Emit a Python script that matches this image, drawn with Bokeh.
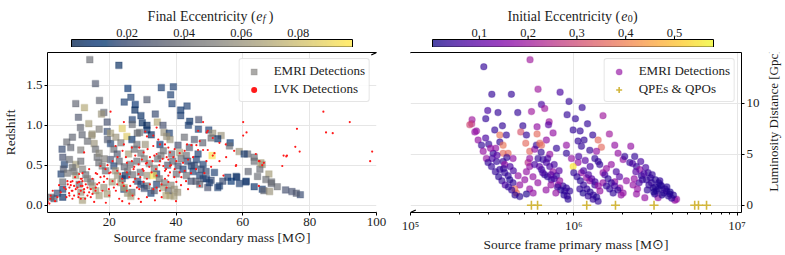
import math
import numpy as np
from bokeh.plotting import figure
from bokeh.models import (Range1d, LinearColorMapper, FixedTicker, PrintfTickFormatter,
                          CustomJSTickFormatter, Legend, LegendItem, Arrow,
                          LinearAxis, LogAxis, ColumnDataSource)
from bokeh.core.properties import value
from bokeh.palettes import Cividis256, Plasma256
from bokeh.layouts import column, row
from bokeh.embed import file_html
from bokeh.resources import INLINE

# ---------------- data: left panel, EMRI detections (secondary mass, redshift, final ecc.)
emri_m2 = [14.2, 22.9, 15.9, 25.6, 35.6, 38.4, 26.5, 31.3, 24.5, 27.8,
           27.7, 17.1, 10.0, 12.6, 18.4, 17.7, 29.5, 33.8, 10.8, 13.9,
           19.4, 26.9, 29.9, 31.3, 34.4, 36.1, 23.9, 11.4, 19.4, 14.9,
           20.4, 26.9, 28.4, 31.3, 32.6, 36.4, 11.9, 39.2, 38.8, 41.4,
           43.3, 41.4, 44.1, 43.7, 46.8, 46.7, 49.8, 51.0, 53.5, 52.5,
           56.2, 56.0, 58.9, 61.4, 63.4, 65.8, 67.8, 65.1, 61.6, 64.4,
           66.9, 70.3, 68.5, 72.8, 74.7, 77.2, 76.0, 63.4, 65.8, 61.0,
           58.0, 55.5, 53.0, 50.5, 48.1, 38.0, 38.2, 38.7, 40.6, 41.1,
           43.1, 46.6, 50.5, 60.4, 63.4, 65.4, 68.6, 60.9, 66.3, 68.0,
           58.2, 52.5, 49.5, 47.1, 38.2, 39.4, 42.1, 45.1, 47.1, 49.1,
           51.5, 50.0, 43.1, 40.1, 40.6, 44.6, 48.1, 46.1, 50.8, 14.8,
           25.3, 29.1, 15.5, 7.3, 15.9, 11.5, 20.4, 21.4, 22.4, 26.8,
           28.3, 30.8, 25.8, 35.2, 36.2, 37.2, 10.0, 6.1, 6.6, 8.1,
           11.5, 12.0, 16.4, 16.9, 17.9, 18.9, 20.4, 21.4, 21.9, 20.9,
           23.9, 24.8, 26.3, 28.3, 29.3, 31.3, 34.2, 31.3, 34.2, 36.2,
           37.7, 33.2, 5.6, 6.1, 6.1, 6.1, 2.6, 10.0, 11.0, 11.5,
           12.0, 14.5, 18.4, 19.4, 24.4, 26.8, 5.9, 6.3, 9.0, 9.5,
           13.0, 13.5, 15.0, 16.0, 17.0, 17.0, 18.5, 22.5, 23.5, 24.5,
           25.5, 26.5, 27.5, 29.5, 30.5, 32.0, 33.5, 35.0, 36.5, 38.5,
           39.5, 40.5, 37.0, 28.5, 29.5, 30.5, 32.5, 33.5, 35.5, 34.5,
           37.5, 39.0, 41.5, 43.5, 45.5, 47.5, 49.0, 44.5, 46.0, 54.0,
           56.5, 59.0, 23.0, 24.5, 25.5, 27.0, 19.5, 22.0, 23.5, 17.0,
           13.5, 9.0, 8.5, 3.5, 4.5, 7.5, 45.5, 48.0, 42.5, 44.0]
emri_z = [1.82, 1.75, 1.52, 1.46, 1.47, 1.38, 1.35, 1.32, 1.29, 1.26,
          1.19, 1.31, 1.27, 1.22, 1.16, 1.14, 1.12, 1.14, 1.10, 1.02,
          1.04, 1.07, 1.03, 1.00, 1.04, 1.00, 0.96, 0.97, 0.92, 0.89,
          0.90, 1.01, 0.90, 0.94, 0.88, 0.91, 0.88, 1.48, 1.27, 1.19,
          1.24, 1.12, 1.05, 1.00, 1.07, 0.95, 0.94, 0.90, 0.87, 0.83,
          0.78, 0.74, 0.67, 0.64, 0.60, 0.51, 0.39, 0.45, 0.42, 0.36,
          0.32, 0.23, 0.27, 0.19, 0.17, 0.13, 0.15, 0.23, 0.20, 0.30,
          0.36, 0.35, 0.24, 0.31, 0.33, 0.90, 0.82, 0.64, 0.75, 0.66,
          0.62, 0.64, 0.84, 0.64, 0.55, 0.53, 0.29, 0.29, 0.18, 0.17,
          0.35, 0.22, 0.22, 0.26, 0.12, 0.11, 0.45, 0.42, 0.37, 0.33,
          0.41, 0.28, 0.37, 0.39, 0.49, 0.49, 0.51, 0.57, 0.62, 0.87,
          0.86, 0.91, 0.77, 0.79, 0.70, 0.69, 0.77, 0.70, 0.64, 0.82,
          0.76, 0.76, 0.64, 0.76, 0.68, 0.86, 0.51, 0.60, 0.51, 0.57,
          0.55, 0.45, 0.60, 0.53, 0.49, 0.43, 0.57, 0.49, 0.43, 0.29,
          0.33, 0.37, 0.51, 0.55, 0.41, 0.37, 0.39, 0.24, 0.26, 0.22,
          0.18, 0.37, 0.39, 0.29, 0.20, 0.10, 0.10, 0.37, 0.26, 0.16,
          0.06, 0.29, 0.22, 0.14, 0.20, 0.16, 0.70, 0.45, 0.47, 0.42,
          0.38, 0.33, 0.24, 0.18, 0.12, 0.65, 0.58, 0.37, 0.28, 0.22,
          0.15, 0.11, 0.70, 0.65, 0.58, 0.52, 0.46, 0.33, 0.28, 0.25,
          0.20, 0.16, 0.12, 0.30, 0.26, 0.21, 0.15, 0.18, 0.62, 0.58,
          0.50, 0.55, 0.58, 0.55, 0.50, 0.45, 0.42, 0.30, 0.30, 0.30,
          0.30, 0.27, 0.55, 0.48, 0.42, 0.38, 0.82, 0.85, 0.78, 0.95,
          0.80, 0.85, 0.72, 0.08, 0.15, 0.40, 0.82, 0.78, 0.85, 0.72]
emri_ef = [.040, .004, .030, .008, .015, .015, .015, .030, .015, .008,
           .004, .035, .035, .070, .035, .060, .005, .020, .030, .065,
           .025, .015, .004, .003, .070, .025, .085, .035, .020, .060,
           .065, .040, .040, .005, .004, .060, .035, .015, .015, .006,
           .015, .015, .005, .015, .025, .015, .015, .060, .060, .005,
           .010, .040, .060, .035, .040, .060, .065, .040, .035, .040,
           .040, .040, .035, .025, .025, .020, .030, .006, .015, .015,
           .015, .015, .015, .020, .020, .015, .060, .040, .025, .065,
           .040, .015, .040, .015, .040, .065, .040, .015, .035, .060,
           .015, .015, .025, .035, .065, .065, .015, .015, .015, .015,
           .015, .015, .040, .040, .025, .015, .015, .015, .095, .060,
           .085, .040, .060, .040, .040, .050, .015, .040, .030, .006,
           .040, .060, .065, .008, .040, .060, .065, .025, .015, .040,
           .040, .050, .040, .040, .050, .040, .025, .015, .060, .065,
           .015, .006, .040, .040, .040, .060, .015, .040, .015, .065,
           .040, .095, .015, .040, .015, .005, .040, .065, .040, .060,
           .065, .040, .060, .065, .015, .040, .020, .030, .040, .045,
           .040, .050, .060, .065, .065, .055, .050, .060, .065, .070,
           .060, .065, .040, .045, .050, .050, .050, .045, .050, .055,
           .060, .060, .070, .020, .015, .020, .015, .030, .045, .040,
           .030, .035, .040, .020, .020, .020, .020, .025, .030, .020,
           .010, .015, .035, .035, .040, .040, .030, .060, .050, .050,
           .040, .035, .035, .030, .020, .045, .030, .035, .040, .030]

# ---------------- data: left panel, LVK detections (secondary mass, redshift)
lvk_m2 = [3.1, 2.4, 2.1, 7.6, 8.1, 8.5, 9.0, 9.5, 10.5, 11.0,
          11.5, 12.0, 12.5, 8.1, 9.0, 11.5, 13.5, 14.0, 14.5, 11.0,
          11.5, 12.5, 16.4, 17.4, 18.4, 15.9, 19.9, 21.4, 22.4, 23.3,
          22.4, 20.4, 24.4, 25.3, 26.3, 27.3, 28.3, 27.8, 29.3, 30.3,
          31.3, 32.2, 33.2, 34.2, 35.2, 35.7, 36.7, 37.2, 23.9, 28.8,
          31.3, 33.7, 35.7, 25.3, 26.8, 27.8, 28.8, 29.8, 30.3, 31.3,
          32.2, 33.2, 34.2, 35.2, 36.2, 37.2, 38.2, 26.8, 24.4, 21.9,
          31.3, 33.2, 34.7, 35.2, 36.7, 18.9, 17.4, 15.0, 16.4, 19.4,
          25.3, 23.9, 27.3, 30.3, 32.7, 34.2, 28.8, 36.7, 37.7,
          37.7, 39.6, 41.1, 42.6, 43.3, 44.6, 46.1, 46.6, 48.1, 49.5,
          51.0, 51.5, 47.1, 46.6, 49.5, 51.0, 53.0, 54.9, 39.2, 40.1,
          42.1, 43.6, 45.1, 49.1, 37.7, 38.2, 38.2, 39.6, 41.1, 42.6,
          37.7, 40.1, 41.6, 43.6, 47.1, 54.2, 57.9, 60.1, 61.1, 63.9,
          65.0, 66.3, 65.8, 64.8, 72.2, 73.2, 71.8,
          20.4, 24.4, 30.8, 34.2, 48.1, 60.1, 49.2, 84.1, 92.0, 76.2,
          84.9, 86.9, 98.7, 98.1, 75.7, 77.0, 73.0, 57.4, 58.0, 64.8, 1.6,
          7.0, 7.5, 8.0, 8.5, 9.0, 9.5, 10.0, 10.5, 11.0, 11.5,
          12.0, 12.5, 13.0, 13.5, 8.8, 9.8, 10.8, 6.5, 7.2, 11.8,
          12.8, 5.5, 4.5, 3.8, 2.5, 5.0, 14.5, 15.0, 16.0, 17.0,
          18.0, 20.0, 21.0, 22.0, 23.0, 24.0, 26.0, 27.0, 29.0, 30.0,
          31.0, 32.0, 33.0, 34.0, 35.0, 36.0, 37.0, 38.5, 39.5, 41.5,
          43.0, 44.5, 46.0, 48.5, 50.5, 53.0, 55.0, 25.0, 24.0, 22.5,
          21.0, 19.5, 27.5, 29.0, 31.5, 33.5, 12.0, 14.0, 16.0, 18.5,
          20.0, 26.0, 29.5, 40.0, 19.0, 15.5]
lvk_z = [0.18, 0.08, 0.02, 0.26, 0.22, 0.29, 0.18, 0.24, 0.22, 0.29,
         0.18, 0.24, 0.16, 0.12, 0.08, 0.08, 0.22, 0.16, 0.10, 0.39,
         0.33, 0.66, 0.39, 0.35, 0.29, 0.18, 0.20, 0.22, 0.26, 0.39,
         0.43, 0.41, 0.24, 0.18, 0.24, 0.29, 0.22, 0.33, 0.35, 0.29,
         0.33, 0.26, 0.20, 0.22, 0.18, 0.26, 0.33, 0.22, 0.05, 0.08,
         0.10, 0.06, 0.10, 0.53, 0.55, 0.62, 0.51, 0.57, 0.66, 0.53,
         0.60, 0.74, 0.64, 0.55, 0.49, 0.60, 0.66, 0.72, 0.76, 0.74,
         0.86, 0.87, 0.82, 0.76, 0.76, 0.45, 0.49, 0.33, 0.26, 0.33,
         0.41, 0.33, 0.45, 0.43, 0.41, 0.37, 0.39, 0.43, 0.37,
         0.72, 0.70, 0.65, 0.68, 0.76, 0.75, 0.75, 0.69, 0.69, 0.69,
         0.62, 0.65, 0.80, 0.93, 0.93, 0.84, 0.78, 0.76, 0.60, 0.55,
         0.53, 0.57, 0.60, 0.55, 0.57, 0.49, 0.41, 0.45, 0.41, 0.43,
         0.29, 0.29, 0.35, 0.20, 0.24, 0.37, 0.49, 0.87, 0.91, 0.64,
         0.55, 0.53, 0.50, 0.24, 0.62, 0.62, 0.49,
         1.17, 1.04, 0.92, 0.97, 1.04, 1.04, 0.91, 1.17, 1.04, 0.955,
         0.91, 0.90, 0.67, 0.55, 0.73, 0.67, 0.61, 0.68, 0.50, 0.55, 0.04,
         0.20, 0.30, 0.15, 0.25, 0.30, 0.12, 0.20, 0.28, 0.14, 0.24,
         0.30, 0.20, 0.26, 0.12, 0.18, 0.35, 0.10, 0.22, 0.10, 0.33,
         0.08, 0.16, 0.10, 0.05, 0.12, 0.25, 0.20, 0.14, 0.22, 0.28,
         0.18, 0.12, 0.30, 0.18, 0.08, 0.28, 0.35, 0.12, 0.20, 0.45,
         0.52, 0.48, 0.55, 0.45, 0.50, 0.58, 0.45, 0.50, 0.35, 0.25,
         0.30, 0.40, 0.45, 0.40, 0.48, 0.55, 0.60, 0.60, 0.68, 0.60,
         0.55, 0.50, 0.48, 0.72, 0.70, 0.62, 0.40, 0.45, 0.40, 0.36,
         0.40, 0.02, 0.04, 0.05, 0.03, 0.04]

# ---------------- data: right panel, EMRI detections (log10 primary mass, D_L [Gpc], initial ecc.)
emri_log10_m1 = [5.449, 5.732, 5.498, 5.618, 5.781, 5.916, 5.971, 5.802, 5.822, 5.473,
                 5.536, 5.657, 5.741, 5.377, 5.375, 5.461, 5.563, 5.688, 5.775, 5.849,
                 5.845, 5.959, 5.404, 5.516, 5.547, 5.587, 5.675, 5.710, 5.775, 5.873,
                 6.051, 6.010, 6.179, 6.084, 5.996, 6.039, 6.116, 6.218, 5.414, 5.435,
                 5.479, 5.547, 5.567, 5.522, 5.445, 5.506, 5.567, 5.598, 5.465, 5.475,
                 5.496, 5.527, 5.567, 5.577, 5.628, 5.547, 5.577, 5.598, 5.608, 5.628,
                 5.659, 5.669, 5.639, 5.649, 5.669, 5.730, 5.751, 5.700, 5.710, 5.720,
                 5.730, 5.706, 5.730, 5.761, 5.771, 5.792, 5.781, 5.812, 5.832, 5.853,
                 5.873, 5.894, 5.914, 5.934, 5.945, 5.965, 5.904, 5.863, 5.802, 5.822,
                 5.730, 5.894, 5.832, 5.853, 5.710, 6.149, 6.169, 6.026, 6.063, 6.047,
                 5.955, 5.955, 5.986, 6.098, 6.139, 6.129, 6.149, 6.159, 6.179, 6.026,
                 5.996, 6.047, 6.078, 6.098, 6.129, 5.955, 5.975, 6.037, 6.057, 6.088,
                 6.118, 6.149, 6.179, 6.200, 6.220, 6.241, 6.251, 6.282, 6.302, 6.251,
                 6.271, 6.302, 6.312, 6.349, 6.373, 6.343, 6.384, 6.404, 6.322, 6.363,
                 6.384, 6.435, 6.414, 6.445, 6.476, 6.486, 6.506, 6.537, 6.568, 6.588,
                 6.619, 6.516, 6.496, 6.455, 6.527, 5.363, 5.394, 5.802, 6.629, 5.50,
                 5.52, 5.54, 5.56, 5.58, 5.60, 5.62, 5.64, 5.57, 5.53, 5.49,
                 5.46, 5.59, 5.61, 5.63, 5.76, 5.79, 5.81, 5.84, 5.86, 5.88,
                 5.90, 5.92, 5.94, 5.96, 5.84, 5.80, 5.88, 5.91, 5.86, 5.83,
                 5.78, 5.75, 5.89, 6.00, 6.02, 6.04, 6.06, 6.08, 6.10, 6.12,
                 6.14, 6.06, 6.09, 6.11, 6.13, 6.15, 6.16, 6.03, 6.07, 6.10,
                 6.19, 6.21, 6.23, 6.25, 6.27, 6.29, 6.20, 6.23, 6.26, 6.28,
                 6.46, 6.50, 6.52, 6.55, 6.58, 6.60, 6.47, 6.43, 6.42, 6.52,
                 6.54, 6.56, 6.49, 6.45, 6.40, 6.38, 6.36, 6.41, 6.44, 6.48,
                 6.50, 6.53, 6.57, 6.59, 6.61, 6.39, 6.37]
emri_dl = [13.6, 14.3, 10.9, 10.9, 11.4, 11.1, 10.2, 9.9, 9.5, 9.3,
           9.1, 9.1, 9.2, 8.4, 8.0, 8.5, 7.8, 7.8, 7.7, 8.2,
           7.9, 8.9, 7.3, 7.4, 6.9, 6.9, 7.2, 6.9, 7.0, 7.1,
           9.6, 8.5, 8.8, 8.0, 7.4, 7.3, 6.9, 7.0, 6.4, 5.9,
           6.0, 6.2, 5.9, 5.6, 5.3, 5.1, 5.1, 5.1, 4.6, 4.2,
           3.8, 4.3, 4.3, 4.0, 4.6, 3.5, 3.2, 2.9, 2.5, 2.2,
           2.9, 2.0, 1.6, 1.2, 0.85, 1.6, 1.2, 2.5, 3.3, 4.2,
           4.6, 6.1, 5.3, 5.5, 5.9, 6.1, 4.6, 4.5, 4.2, 3.8,
           3.3, 2.9, 2.4, 1.9, 1.4, 0.6, 2.0, 2.5, 3.5, 3.0,
           3.8, 5.6, 6.4, 5.0, 1.1, 6.4, 5.7, 6.3, 6.4, 5.8,
           5.9, 5.1, 4.6, 5.4, 5.3, 4.6, 4.3, 4.0, 3.2, 4.2,
           3.8, 3.2, 2.7, 2.4, 2.0, 1.7, 1.4, 1.6, 1.2, 0.9,
           0.6, 0.4, 2.2, 1.9, 1.6, 1.2, 2.3, 1.7, 1.2, 5.9,
           5.1, 4.5, 4.8, 5.8, 4.8, 4.2, 3.8, 3.5, 2.4, 2.0,
           1.1, 0.75, 2.9, 2.5, 2.2, 1.7, 1.4, 1.9, 1.4, 1.1,
           0.5, 0.75, 1.1, 3.2, 2.4, 7.9, 7.2, 5.9, 0.6, 4.6,
           3.3, 2.8, 2.4, 2.0, 1.8, 1.5, 1.0, 3.6, 4.9, 5.6,
           6.6, 4.7, 3.8, 3.4, 4.0, 3.8, 3.2, 2.8, 3.0, 2.6,
           1.8, 1.5, 1.0, 0.9, 4.6, 5.2, 4.0, 3.4, 2.0, 1.5,
           2.2, 2.8, 1.2, 3.2, 2.8, 2.4, 2.0, 1.6, 1.3, 1.0,
           0.8, 3.4, 3.0, 2.6, 2.3, 1.9, 1.4, 4.8, 4.4, 3.8,
           3.0, 2.6, 2.2, 1.9, 1.5, 1.0, 3.6, 4.0, 3.3, 2.8,
           2.0, 1.8, 1.6, 1.2, 0.9, 0.7, 2.7, 3.1, 2.5, 2.2,
           1.0, 1.6, 1.3, 1.5, 2.2, 3.3, 4.1, 4.3, 3.7, 3.0,
           2.5, 2.0, 1.8, 1.3, 1.0, 1.6, 2.6]
emri_e0 = [.04, .20, .04, .04, .20, .07, .04, .07, .20, .07,
           .04, .04, .20, .20, .25, .04, .04, .04, .18, .20,
           .09, .04, .18, .04, .38, .04, .32, .04, .36, .18,
           .04, .04, .20, .04, .04, .04, .04, .20, .18, .04,
           .04, .04, .38, .18, .18, .04, .36, .36, .18, .04,
           .04, .04, .04, .18, .18, .04, .04, .04, .02, .04,
           .18, .18, .38, .36, .03, .18, .18, .18, .18, .25,
           .18, .36, .36, .18, .04, .36, .04, .04, .07, .07,
           .18, .04, .18, .04, .04, .03, .18, .04, .04, .04,
           .18, .04, .18, .18, .02, .36, .36, .04, .04, .04,
           .18, .04, .18, .04, .18, .04, .04, .04, .18, .18,
           .55, .18, .18, .18, .04, .04, .04, .04, .02, .04,
           .04, .04, .18, .04, .04, .04, .18, .18, .18, .18,
           .18, .18, .04, .18, .04, .04, .04, .18, .18, .18,
           .18, .18, .04, .04, .04, .02, .04, .04, .04, .02,
           .18, .18, .04, .04, .04, .30, .18, .36, .18, .07,
           .04, .03, .04, .07, .04, .04, .03, .04, .09, .18,
           .07, .04, .07, .07, .07, .09, .07, .04, .09, .07,
           .04, .03, .03, .04, .07, .04, .07, .09, .18, .18,
           .18, .18, .18, .04, .04, .03, .04, .04, .03, .04,
           .03, .07, .07, .09, .07, .18, .18, .07, .09, .07,
           .07, .04, .04, .07, .04, .18, .18, .18, .07, .09,
           .04, .03, .02, .04, .03, .04, .04, .07, .04, .03,
           .02, .03, .02, .04, .07, .09, .07, .07, .07, .04,
           .03, .02, .03, .02, .03, .18, .18]

# ---------------- data: right panel, QPEs & QPOs (primary mass, D_L)
qpe_m1 = [5.5e5, 6.0e5, 1.2e6, 1.8e6, 3.1e6, 5.5e6, 5.8e6, 6.5e6]
qpe_dl = [0, 0, 0, 0, 0, 0, 0, 0]

# ticks / colour-scale ticks
left_xticks = [20, 40, 60, 80, 100]
left_yticks = [0.0, 0.5, 1.0, 1.5]
right_xticks = [1e5, 1e6, 1e7]
right_yticks = [0, 5, 10]
ef_ticks = [0.02, 0.04, 0.06, 0.08]
e0_ticks = [0.1, 0.2, 0.3, 0.4, 0.5]

assert len(emri_m2) == len(emri_z) == len(emri_ef)
assert len(lvk_m2) == len(lvk_z)
assert len(emri_log10_m1) == len(emri_dl) == len(emri_e0)

FONT = "Liberation Serif"
TXT = "#1c1c1c"
TICK_FS = "13px"
LAB_FS = "13.5px"
GRID = "#e6e6e6"

ef_low, ef_high = 0.0005, 0.099
e0_low, e0_high = 0.004, 0.58
cmap_ef = LinearColorMapper(palette=Cividis256, low=ef_low, high=ef_high)
cmap_e0 = LinearColorMapper(palette=Plasma256, low=e0_low, high=e0_high)


def style_axis(ax, label=None):
    ax.axis_line_color = "black"
    ax.axis_line_width = 1
    ax.major_tick_line_color = "black"
    ax.major_tick_in = 0
    ax.major_tick_out = 3
    ax.minor_tick_line_color = None
    ax.major_label_text_font = FONT
    ax.major_label_text_font_size = TICK_FS
    ax.major_label_text_color = TXT
    ax.major_label_standoff = 2
    ax.axis_label_text_font = FONT
    ax.axis_label_text_font_size = LAB_FS
    ax.axis_label_text_font_style = "normal"
    ax.axis_label_text_color = TXT
    ax.axis_label_standoff = 2
    if label:
        ax.axis_label = label


def spine_axis(kind):
    return kind(ticker=FixedTicker(ticks=[]), axis_line_color="black", axis_line_width=1,
                major_tick_in=0, major_tick_out=0, minor_tick_in=0, minor_tick_out=0,
                major_label_standoff=0, major_label_text_font_size="0px")


def style_legend(leg):
    leg.label_text_font = FONT
    leg.label_text_font_size = "13px"
    leg.label_text_color = TXT
    leg.glyph_width = 20
    leg.glyph_height = 15
    leg.label_height = 15
    leg.label_standoff = 10
    leg.padding = 4
    leg.spacing = 2
    leg.margin = 6
    leg.border_line_color = "#cccccc"
    leg.border_line_width = 1
    leg.background_fill_color = "white"
    leg.background_fill_alpha = 0.85
    if "border_radius" in leg.properties():
        leg.border_radius = 3


def brk(p, x0, y0, x1, y1):
    p.add_layout(Arrow(end=None, x_start=x0, y_start=y0, x_end=x1, y_end=y1,
                       line_color="black", line_width=1.2))


# ---------------- left panel
p1 = figure(width=393, height=207, x_range=Range1d(1.54, 100), y_range=Range1d(-0.092, 1.91),
            min_border_left=45, min_border_right=17, min_border_top=5, min_border_bottom=41,
            toolbar_location=None, output_backend="svg")
p1.outline_line_color = None
p1.grid.grid_line_color = GRID
p1.xaxis.ticker = FixedTicker(ticks=left_xticks)
p1.yaxis.ticker = FixedTicker(ticks=left_yticks)
p1.yaxis.formatter = PrintfTickFormatter(format="%.1f")
style_axis(p1.xaxis[0], "Source frame secondary mass [M⊙]")
style_axis(p1.yaxis[0], "Redshift")
p1.yaxis.axis_label_standoff = 5
p1.xaxis.axis_label_standoff = 1
p1.add_layout(spine_axis(LinearAxis), "above")

src_l = ColumnDataSource(dict(x=emri_m2, y=emri_z, c=emri_ef))
r_emri_l = p1.scatter("x", "y", source=src_l, marker="square", size=6.5,
                      fill_color={"field": "c", "transform": cmap_ef},
                      line_color={"field": "c", "transform": cmap_ef},
                      fill_alpha=0.65, line_alpha=0.28, line_width=1.2)
r_lvk = p1.scatter(lvk_m2, lvk_z, marker="circle", size=2.2, fill_color="#ff1a1a", line_color=None)

leg1 = Legend(items=[LegendItem(label="EMRI Detections", renderers=[r_emri_l], index=115),
                     LegendItem(label="LVK Detections", renderers=[r_lvk], index=0)],
              location="top_right")
style_legend(leg1)
p1.add_layout(leg1)
brk(p1, 100 - 1.57, 1.91 - 0.031, 100 + 1.57, 1.91 + 0.031)
brk(p1, 100 - 1.57, -0.092 - 0.031, 100 + 1.57, -0.092 + 0.031)

# ---------------- right panel
x_end = 10 ** 7.027
p2 = figure(width=374, height=207, x_axis_type="log", x_range=Range1d(1e5, x_end),
            y_range=Range1d(-0.71, 15.0), y_axis_location="right",
            min_border_left=17, min_border_right=26, min_border_top=5, min_border_bottom=41,
            toolbar_location=None, output_backend="svg")
p2.outline_line_color = None
p2.grid.grid_line_color = GRID
minor = [k * 10 ** e for e in (5, 6) for k in range(2, 10)]
p2.xaxis.ticker = FixedTicker(ticks=right_xticks, minor_ticks=minor)
p2.xaxis.formatter = CustomJSTickFormatter(code="""
const e = Math.round(Math.log10(tick));
const s = {"0":"\u2070","1":"\u00b9","2":"\u00b2","3":"\u00b3","4":"\u2074","5":"\u2075","6":"\u2076","7":"\u2077","8":"\u2078","9":"\u2079"};
return "10" + String(e).split("").map(c => s[c]).join("");
""")
p2.yaxis.ticker = FixedTicker(ticks=right_yticks)
style_axis(p2.xaxis[0], "Source frame primary mass [M⊙]")
p2.xaxis.axis_label_standoff = 1
p2.xaxis.minor_tick_line_color = "black"
p2.xaxis.minor_tick_in = 0
p2.xaxis.minor_tick_out = 2
style_axis(p2.yaxis[0])
p2.add_layout(spine_axis(LogAxis), "above")

src_r = ColumnDataSource(dict(x=(10 ** np.array(emri_log10_m1)).tolist(), y=emri_dl, c=emri_e0))
r_emri_r = p2.scatter("x", "y", source=src_r, marker="circle", size=6.5,
                      fill_color={"field": "c", "transform": cmap_e0},
                      line_color={"field": "c", "transform": cmap_e0},
                      fill_alpha=0.65, line_alpha=0.28, line_width=1.2)
r_qpe = p2.scatter(qpe_m1, qpe_dl, marker="cross", size=9, line_color="#d2b63c", line_width=1.6)

leg2 = Legend(items=[LegendItem(label="EMRI Detections", renderers=[r_emri_r], index=18),
                     LegendItem(label="QPEs & QPOs", renderers=[r_qpe], index=0)],
              location="top_right")
style_legend(leg2)
p2.add_layout(leg2)
brk(p2, 1e5 / 1.078, 15.0 - 0.243, 1e5 * 1.078, 15.0 + 0.243)
brk(p2, 1e5 / 1.078, -0.71 - 0.243, 1e5 * 1.078, -0.71 + 0.243)

# ---------------- right y-axis label, drawn in a narrow strip so it reads bottom-to-top
p3 = figure(width=17, height=207, x_range=Range1d(0, 17), y_range=Range1d(0, 207),
            x_axis_location=None, y_axis_location=None,
            min_border_left=0, min_border_right=0, min_border_top=0, min_border_bottom=0,
            toolbar_location=None, output_backend="svg")
p3.grid.visible = False
p3.outline_line_color = None
p3.text(x=[5.5], y=[119.0], text=["Luminosity Distance [Gpc]"], angle=math.pi / 2,
        text_font=value(FONT), text_font_size=value("13px"), text_color=TXT,
        text_align="center", text_baseline="middle")


# ---------------- colour bars (ticks and titles above the bar)
def cbar(width, low, high, cmap, ticks, fmt, ml, mr):
    s = (high - low) / 281.0
    cb = figure(width=width, height=47, x_range=Range1d(low - 2 * s, high + 2 * s),
                y_range=Range1d(0, 47), x_axis_location=None, y_axis_location=None,
                min_border_left=ml, min_border_right=mr, min_border_top=0, min_border_bottom=0,
                toolbar_location=None, output_backend="svg")
    cb.grid.visible = False
    cb.outline_line_color = None
    cb.image(image=[np.linspace(low, high, 256)[np.newaxis, :]], x=low, y=0.3, dw=high - low, dh=7.7,
             color_mapper=cmap, global_alpha=0.75)
    cb.quad(left=[low], right=[high], bottom=[0.3], top=[8.0], fill_color=None,
            line_color="black", line_width=1)
    cb.segment(x0=ticks, y0=[8.0] * len(ticks), x1=ticks, y1=[11.0] * len(ticks),
               line_color="black", line_width=1)
    cb.text(x=ticks, y=[15.0] * len(ticks), text=[fmt % t for t in ticks],
            text_font=value(FONT), text_font_size=value("12.5px"), text_color=TXT,
            text_align="center", text_baseline="alphabetic")
    return cb


def title_part(cb, x, y, text, size="14px", style="normal", align="left"):
    cb.text(x=[x], y=[y], text=[text], text_font=value(FONT), text_font_size=value(size),
            text_font_style=style, text_color=TXT, text_align=align, text_baseline="alphabetic")


cb1 = cbar(393, ef_low, ef_high, cmap_ef, ef_ticks, "%.2f", 69, 39)
title_part(cb1, 0.06506, 31.3, "Final Eccentricity (", align="right")
title_part(cb1, 0.06524, 31.3, "e", style="italic")
title_part(cb1, 0.06750, 29.0, "f", size="10px", style="italic")
title_part(cb1, 0.06960, 31.3, ")")

cb2 = cbar(391, e0_low, e0_high, cmap_e0, e0_ticks, "%.1f", 37, 69)
title_part(cb2, 0.3888, 31.3, "Initial Eccentricity (", align="right")
title_part(cb2, 0.3909, 31.3, "e", style="italic")
title_part(cb2, 0.4040, 29.0, "0", size="10px")
title_part(cb2, 0.4150, 31.3, ")")

layout = column(row(cb1, cb2), row(p1, p2, p3))
open("out.html", "w", encoding="utf-8").write(file_html(layout, INLINE, title="EMRI detections"))
